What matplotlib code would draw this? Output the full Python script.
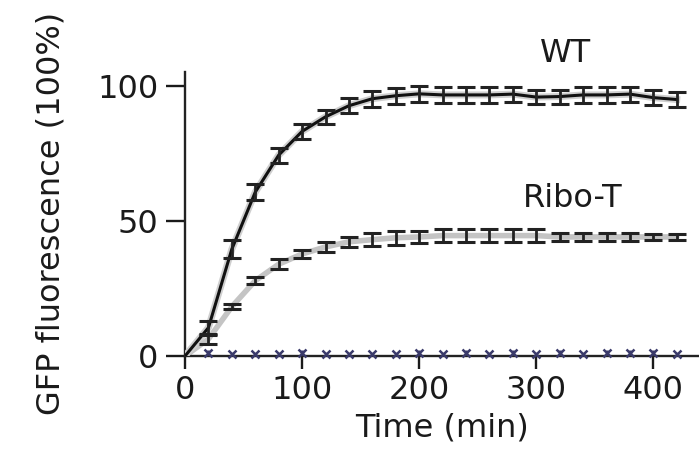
import matplotlib
matplotlib.use('Agg')
import matplotlib.pyplot as plt
import matplotlib.patheffects as pe

# datos
tiempo = [0, 20, 40, 60, 80, 100, 120, 140, 160, 180, 200,
          220, 240, 260, 280, 300, 320, 340, 360, 380, 400, 420]
wt = [0, 10.5, 39.6, 60.7, 74.4, 83.2, 88.6, 92.7, 95.3, 96.4, 97.1,
      96.7, 96.7, 96.7, 97.0, 95.9, 96.1, 96.7, 96.7, 97.0, 95.7, 95.0]
wt_err = [0, 2.6, 3.4, 2.9, 2.8, 2.8, 2.5, 2.8, 2.9, 2.9, 2.9,
          3.0, 3.0, 3.0, 2.8, 2.7, 2.6, 3.0, 3.0, 2.8, 2.8, 2.9]
ribo = [0, 6.3, 18.3, 27.9, 34.0, 37.8, 40.4, 42.3, 43.1, 43.8, 44.1,
        44.6, 44.6, 44.6, 44.6, 44.6, 44.1, 44.1, 44.1, 44.1, 44.1, 44.1]
ribo_err = [0, 1.7, 1.0, 1.2, 1.9, 1.5, 1.7, 1.8, 2.5, 2.6, 2.2,
            2.5, 2.5, 2.5, 2.5, 2.5, 1.4, 1.4, 1.4, 1.4, 1.0, 1.0]

# control sin ribosoma (cerca de cero)
tiempo_ctrl = [20, 40, 60, 80, 100, 120, 140, 160, 180, 200,
               220, 240, 260, 280, 300, 320, 340, 360, 380, 400, 420]
ctrl = [1.2, 0.8, 0.8, 0.8, 1.2, 0.8, 0.8, 0.8, 0.8, 1.2,
        0.8, 1.2, 0.8, 1.2, 0.8, 1.2, 0.8, 1.2, 1.2, 1.2, 0.8]
ctrl_err = [1.0, 0, 0, 0, 1.0, 0, 0, 0, 0, 1.0,
            0, 1.0, 0, 1.0, 0, 1.0, 0, 1.0, 1.0, 1.0, 0]

plt.rcParams['font.family'] = ['DejaVu Sans']
color_texto = '#1a1a1a'
tam = 23

fig = plt.figure(figsize=(6.99, 4.49), dpi=100)
ax = fig.add_axes([0.2647, 0.2071, 0.7353, 0.6332])

# lineas
ax.plot(tiempo, ribo, color='#c4c4c4', lw=4, solid_capstyle='round', zorder=2)
ax.plot(tiempo, wt, color='#111111', lw=2.2, zorder=3,
        path_effects=[pe.Stroke(linewidth=5, foreground='#cfcfcf'), pe.Normal()])

# barras de error
ax.errorbar(tiempo[1:], ribo[1:], yerr=ribo_err[1:], fmt='none', ecolor='#222222',
            elinewidth=2, capsize=6.5, capthick=2.2, zorder=4)
ax.errorbar(tiempo[1:], wt[1:], yerr=wt_err[1:], fmt='none', ecolor='#222222',
            elinewidth=2, capsize=6.5, capthick=2.2, zorder=4)

# control
ax.errorbar(tiempo_ctrl, ctrl, yerr=ctrl_err, fmt='x', color='#3a3a6a', ms=6, mew=1.8,
            elinewidth=1.8, capsize=0, zorder=5, clip_on=False)

ax.set_xlim(0, 439)
ax.set_ylim(0, 105.3)
ax.set_xticks([0, 100, 200, 300, 400])
ax.set_yticks([0, 50, 100])

for s in ['top', 'right']:
    ax.spines[s].set_visible(False)
for s in ['left', 'bottom']:
    ax.spines[s].set_linewidth(1.7)
    ax.spines[s].set_color('#222222')

ax.tick_params(axis='x', length=9, width=1.7, pad=5, labelsize=tam, colors=color_texto)
ax.tick_params(axis='y', length=14, width=1.7, pad=5, labelsize=tam, colors=color_texto)

ax.set_xlabel('Time (min)', fontsize=tam, color=color_texto, labelpad=4)
ax.set_ylabel('GFP fluorescence (100%)', fontsize=tam, color=color_texto, labelpad=22)

ax.text(325, 112, 'WT', fontsize=tam, ha='center', va='center', color=color_texto, clip_on=False)
ax.text(331, 58.3, 'Ribo-T', fontsize=tam, ha='center', va='center', color=color_texto)

fig.savefig('out.png', dpi=100)
